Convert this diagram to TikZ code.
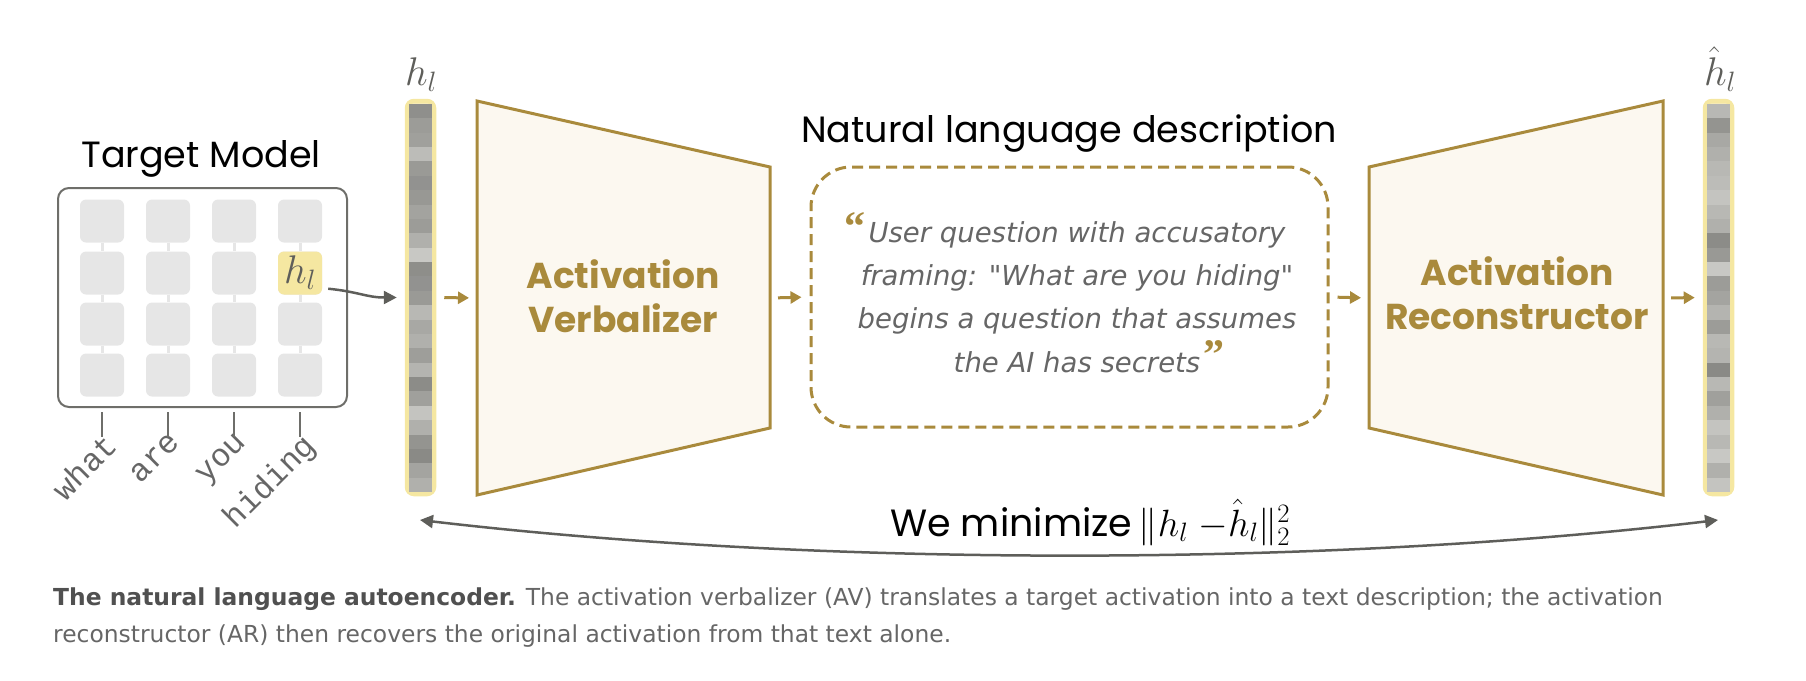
\RequirePackage{fix-cm}
\documentclass[tikz,border=0pt]{standalone}
\usepackage{fontspec}
\setmainfont{Poppins}
\newfontfamily\capfont{DejaVu Sans}
\newfontfamily\quotefont{DejaVu Sans}
\newfontfamily\qmarkfamily{Liberation Serif}
\setmonofont{Liberation Mono}
\usetikzlibrary{arrows.meta,calc}
\definecolor{gold}{HTML}{A98A3C}
\definecolor{cream}{HTML}{FCF8F0}
\definecolor{hlyellow}{HTML}{F5E7A1}
\definecolor{hlfill}{HTML}{F7EDC0}
\definecolor{cellgray}{HTML}{E6E6E6}
\definecolor{boxgray}{HTML}{6E6E6A}
\definecolor{darkgray}{HTML}{5E5E5A}
\definecolor{textgray}{HTML}{666666}
\definecolor{capgray}{HTML}{666666}
\definecolor{capdark}{HTML}{505050}
\begin{document}
\begin{tikzpicture}[x=1pt,y=-1pt,
  cell/.style={fill=cellgray, rounded corners=6pt, minimum width=44pt, minimum height=43pt, inner sep=0pt},
  cellline/.style={draw=cellgray, line width=3pt},
  goldarrow/.style={draw=gold, line width=3pt, -{Triangle[length=11pt,width=12pt]}, shorten <=8pt, shorten >=8pt},
  darkarrow/.style={draw=darkgray, line width=2.5pt, -{Triangle[length=13pt,width=13pt]}},
  barbox/.style={draw=hlyellow, fill=hlfill, line width=4.5pt, rounded corners=7pt, minimum width=27pt, minimum height=393pt, inner sep=0pt},
  trap/.style={draw=gold, fill=cream, line width=3pt, line join=miter},
  boxlabel/.style={text=gold, font=\fontsize{36}{44}\selectfont\bfseries, align=center},
  title/.style={font=\fontsize{36.5}{44}\selectfont, text=black},
  token/.style={font=\ttfamily\fontsize{32}{32}\selectfont, text=textgray, rotate=45, anchor=north east, inner sep=0pt},
  tick/.style={draw=boxgray, line width=2.5pt},
  qline/.style={text=textgray, font=\quotefont\itshape\fontsize{27.5}{33}\selectfont, anchor=base, inner sep=0pt},
  qmark/.style={font=\qmarkfamily\upshape\bfseries\fontsize{42}{42}\selectfont, text=gold, inner sep=0pt},
  caption/.style={anchor=base west, inner sep=0pt, font=\capfont\fontsize{23.4}{27}\selectfont, text=capgray},
]
\useasboundingbox (0,0) rectangle (1806,680);

% ---------- Target model ----------
\node[title, anchor=base] (tmtitle) at (201,167) {Target Model};
\node[draw=boxgray, line width=2pt, rounded corners=11pt, minimum width=289pt, minimum height=219pt, inner sep=0pt] (tm) at (202.5,297.5) {};
\foreach \i/\x in {0/102,1/168,2/234,3/300} {
  \foreach \j/\y in {0/221,1/273,2/324,3/375} {
    \node[cell] (c\i\j) at (\x,\y) {};
  }
  \draw[cellline] (c\i0) -- (c\i1);
  \draw[cellline] (c\i1) -- (c\i2);
  \draw[cellline] (c\i2) -- (c\i3);
}
\node[cell, fill=hlyellow, text=darkgray, font=\fontsize{40}{40}\selectfont] (hl) at (300,273) {$h_l$};

% tokens
\foreach \n/\x/\w in {0/102/what,1/168/are,2/234/you,3/300/hiding} {
  \coordinate (tt\n) at (\x,412);
  \coordinate (tb\n) at (\x,437);
  \node[token] (tok\n) at (\x+1,431) {\w};
  \draw[tick] (tt\n) -- (tb\n);
}

% ---------- left activation bar ----------
\node[barbox] (barL) at (420.5,297.5) {};
\foreach \c [count=\k from 0] in {8F8F8C,9C9C98,A0A09C,BCBCB8,9A9A96,929290,989894,A3A39F,9C9C98,B0B0AC,C8C8C4,8E8E8A,929290,9A9A96,B8B8B4,A8A8A4,B0B0AC,9E9E9A,B4B4B0,8C8C88,A0A09C,C4C4C0,B0B0AC,949490,8A8A86,A4A4A0,B0B0AC} {
  \definecolor{stc}{HTML}{\c}
  \fill[stc] (409,{104+\k*14.37}) rectangle (432,{104+\k*14.37+14.5});
}
\node[text=darkgray, font=\fontsize{40}{40}\selectfont, anchor=base] (hlab) at (421,85) {$h_l$};

\draw[darkarrow] ([xshift=6pt,yshift=6pt]hl.south east) .. controls +(30,3) and +(-30,0) .. ([xshift=-8pt]barL.west);

% ---------- Activation Verbalizer ----------
\draw[trap] (477,101) -- (770,167) -- (770,428) -- (477,495) -- cycle;
\coordinate (avL) at (477,298);
\coordinate (avR) at (770,298);
\node[boxlabel] (av) at (623,296) {Activation\\Verbalizer};
\draw[goldarrow] (barL.east) -- (avL);

% ---------- description ----------
\node[title, anchor=base] (desctitle) at (1069,142) {Natural language description};
\node[draw=gold, fill=white, line width=3pt, dash pattern=on 11pt off 6pt, rounded corners=40pt, minimum width=517pt, minimum height=260pt, inner sep=0pt] (desc) at (1069.5,297) {};
\node[qline] (q1) at (1077,242) {User question with accusatory};
\node[qline] (q2) at (1077,285) {framing: "What are you hiding"};
\node[qline] (q3) at (1077,328) {begins a question that assumes};
\node[qline] (q4) at (1077,372) {the AI has secrets};
\node[qmark, anchor=base east] (qo) at ([xshift=-3pt,yshift=2pt]q1.base west) {\char"201C};
\node[qmark, anchor=base west] (qc) at ([xshift=3pt,yshift=4pt]q4.base east) {\char"201D};
\draw[goldarrow] (avR) -- (desc.west);

% ---------- Activation Reconstructor ----------
\draw[trap] (1369,167) -- (1663,101) -- (1663,495) -- (1369,428) -- cycle;
\coordinate (arL) at (1369,298);
\coordinate (arR) at (1663,298);
\node[boxlabel] (ar) at (1517,293) {Activation\\Reconstructor};
\draw[goldarrow] (desc.east) -- (arL);

% ---------- right bar ----------
\node[barbox] (barR) at (1718.5,297.5) {};
\foreach \c [count=\k from 0] in {B8B8B4,949490,A8A8A4,B0B0AC,B8B8B4,BCBCB8,C4C4C0,B8B8B4,B0B0AC,8C8C88,999995,C8C8C4,9C9C98,A4A4A0,B4B4B0,9C9C98,B8B8B4,B4B4B0,8A8A86,B8B8B4,A0A09C,B0B0AC,C4C4C0,B8B8B4,C8C8C4,B0B0AC,C4C4C0} {
  \definecolor{stc}{HTML}{\c}
  \fill[stc] (1707,{104+\k*14.37}) rectangle (1730,{104+\k*14.37+14.5});
}
\node[text=darkgray, font=\fontsize{40}{40}\selectfont, anchor=base] (hhatlab) at (1720,85) {$\hat{h}_l$};
\draw[goldarrow] (arR) -- (barR.west);

% ---------- loss ----------
\coordinate (mL) at (420,520);
\coordinate (mR) at (1718,520);
\draw[draw=darkgray, line width=2.5pt, {Triangle[length=13pt,width=13pt]}-{Triangle[length=13pt,width=13pt]}] (mL) .. controls (820,567) and (1320,567) .. (mR);
\node[anchor=base west, inner sep=0pt, font=\fontsize{38}{38}\selectfont, text=black] (loss) at (890,536) {We minimize\,$\|h_l\;{-}\hat{h}_l\|_2^2$};

% ---------- caption ----------
\node[caption] (cap1) at (53,605)
 {{\bfseries\color{capdark}The natural language autoencoder.} The activation verbalizer (AV) translates a target activation into a text description; the activation};
\node[caption] (cap2) at (53,642)
 {reconstructor (AR) then recovers the original activation from that text alone.};
\end{tikzpicture}
\end{document}
